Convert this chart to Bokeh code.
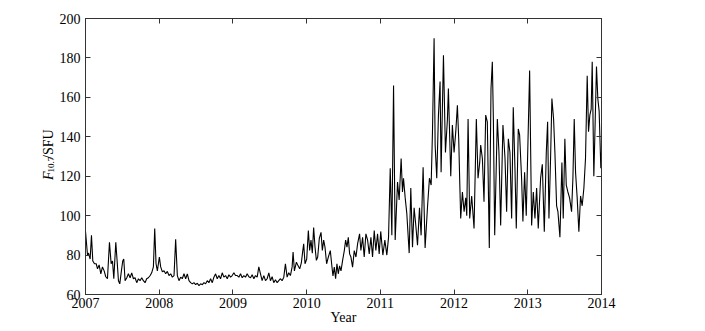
from bokeh.plotting import figure
from bokeh.models import Range1d, FixedTicker, LinearAxis, Label, CustomLabelingPolicy
from bokeh.layouts import row
from bokeh.embed import file_html
from bokeh.resources import INLINE
import math

# decimal year and F10.7 flux (SFU)
years = [
    2007.000, 2007.027, 2007.041, 2007.063, 2007.081, 2007.099, 2007.122, 2007.145, 2007.163, 2007.185,
    2007.208, 2007.230, 2007.253, 2007.275, 2007.298, 2007.325, 2007.348, 2007.366, 2007.384, 2007.411,
    2007.429, 2007.447, 2007.465, 2007.487, 2007.505, 2007.519, 2007.537, 2007.560, 2007.582, 2007.605,
    2007.627, 2007.650, 2007.672, 2007.695, 2007.718, 2007.740, 2007.763, 2007.785, 2007.808, 2007.830,
    2007.853, 2007.875, 2007.898, 2007.921, 2007.939, 2007.957, 2007.975,
    2008.002, 2008.020, 2008.043, 2008.065, 2008.088, 2008.110, 2008.133, 2008.156, 2008.178, 2008.201,
    2008.223, 2008.246, 2008.268, 2008.291, 2008.313, 2008.336, 2008.359, 2008.381, 2008.404, 2008.426,
    2008.449, 2008.471, 2008.494, 2008.517, 2008.539, 2008.562, 2008.585, 2008.607, 2008.629, 2008.652,
    2008.674, 2008.697, 2008.720, 2008.742, 2008.765, 2008.787, 2008.810, 2008.832, 2008.855, 2008.877,
    2008.900, 2008.923, 2008.945, 2008.968, 2008.990,
    2009.013, 2009.035, 2009.058, 2009.081, 2009.103, 2009.126, 2009.148, 2009.171, 2009.193, 2009.216,
    2009.239, 2009.261, 2009.284, 2009.306, 2009.329, 2009.351, 2009.374, 2009.396, 2009.419, 2009.442,
    2009.464, 2009.487, 2009.509, 2009.532, 2009.554, 2009.577, 2009.600, 2009.622, 2009.645, 2009.667,
    2009.690, 2009.712, 2009.735, 2009.757, 2009.780, 2009.803, 2009.816, 2009.834, 2009.861, 2009.879,
    2009.906, 2009.928, 2009.947, 2009.960, 2009.978,
    2010.001, 2010.023, 2010.041, 2010.059, 2010.077, 2010.095, 2010.114, 2010.132, 2010.150, 2010.172,
    2010.195, 2010.213, 2010.231, 2010.249, 2010.271, 2010.294, 2010.321, 2010.339, 2010.357, 2010.375,
    2010.393, 2010.411, 2010.429, 2010.447, 2010.466, 2010.488, 2010.511, 2010.529, 2010.547, 2010.565,
    2010.583, 2010.601, 2010.623, 2010.646, 2010.669, 2010.691, 2010.718, 2010.736, 2010.759, 2010.781,
    2010.804, 2010.827, 2010.849, 2010.872, 2010.894, 2010.917, 2010.939, 2010.962, 2010.984,
    2011.005, 2011.034, 2011.061, 2011.088, 2011.111, 2011.134, 2011.156, 2011.179, 2011.201, 2011.233,
    2011.255, 2011.282, 2011.300, 2011.314, 2011.337, 2011.359, 2011.391, 2011.413, 2011.436, 2011.458,
    2011.481, 2011.504, 2011.531, 2011.553, 2011.580, 2011.607, 2011.639, 2011.666, 2011.689, 2011.707,
    2011.729, 2011.743, 2011.765, 2011.788, 2011.810, 2011.824, 2011.856, 2011.883, 2011.910, 2011.923,
    2011.955, 2011.977,
    2012.000, 2012.023, 2012.045, 2012.063, 2012.077, 2012.090, 2012.113, 2012.136, 2012.158, 2012.172,
    2012.190, 2012.212, 2012.239, 2012.271, 2012.302, 2012.325, 2012.348, 2012.361, 2012.384, 2012.406,
    2012.429, 2012.451, 2012.478, 2012.501, 2012.519, 2012.533, 2012.551, 2012.587, 2012.609, 2012.632,
    2012.663, 2012.691, 2012.713, 2012.736, 2012.758, 2012.781, 2012.803, 2012.826, 2012.844, 2012.871,
    2012.889, 2012.916, 2012.934, 2012.957, 2012.979,
    2013.025, 2013.052, 2013.075, 2013.097, 2013.120, 2013.142, 2013.174, 2013.197, 2013.224, 2013.251,
    2013.269, 2013.287, 2013.309, 2013.327, 2013.350, 2013.368, 2013.391, 2013.409, 2013.436, 2013.463,
    2013.481, 2013.503, 2013.522, 2013.544, 2013.567, 2013.594, 2013.612, 2013.630, 2013.648, 2013.670,
    2013.693, 2013.716, 2013.738, 2013.761, 2013.783, 2013.806, 2013.824, 2013.842, 2013.860, 2013.874,
    2013.896, 2013.910, 2013.932, 2013.950, 2013.968, 2013.991, 2014.000,
]
flux = [
    92, 80, 81, 78, 90, 77, 75.6, 75.6, 73, 75,
    70.5, 74, 72, 69, 68, 86.5, 75.6, 77, 68, 86.5,
    77, 67, 65.4, 72, 77, 78, 67, 68.5, 70.5, 68.5,
    71, 68, 68.5, 66, 68, 67, 68.5, 67, 66, 68,
    68.5, 69.5, 71, 74, 93.5, 75.6, 72,
    79, 74, 71.5, 72, 70.5, 71.7, 69.6, 70.5, 68.8, 69.6,
    88, 69.6, 67, 68.8, 68, 70.5, 68, 70.5, 67, 66,
    65.4, 66, 65, 65.7, 64.5, 65.4, 65, 66, 65.4, 67,
    66, 68, 66, 68.8, 70.5, 68, 69.6, 68, 71, 68.8,
    69.6, 68, 70, 68.8, 69.6,
    71, 69.6, 69.6, 68.8, 70.5, 68.5, 69.6, 68.8, 70.5, 69,
    68.5, 70, 68, 69.6, 68.8, 74, 70.5, 67, 69.6, 67,
    68, 71, 67, 69, 66, 67.5, 66, 67, 68, 67,
    68.8, 75.6, 68.8, 71, 69.6, 74, 81.5, 72, 76.4, 75,
    73, 76, 82, 85.7, 75.6,
    78, 92.5, 82.3, 87.6, 81, 94, 84, 77.3, 79, 88.5,
    91.5, 82.3, 87.6, 84, 75.6, 79, 82.3, 75.6, 69.4, 73.9,
    68, 75.6, 70.5, 74.5, 72, 77.3, 82.3, 87.6, 84, 89,
    80.6, 79, 73.9, 82.3, 79, 85.7, 90.8, 82.3, 89, 79,
    90.8, 87.6, 80.6, 89, 79, 92.5, 82.3, 90.8, 80.6,
    92, 80, 87.6, 80, 89, 124, 90, 166, 87.6, 117,
    108, 129, 112, 119, 109, 101, 81, 114, 84, 104,
    95, 85, 104, 90, 124.6, 83.6, 104, 119, 115.5, 142.6,
    190, 135.8, 119, 151, 168, 122, 181.4, 132, 149, 164.5,
    120, 146,
    132, 142.6, 156, 139, 117, 98.6, 112, 102, 109, 100,
    149, 98.6, 110, 93.5, 149, 119, 127, 135.8, 129, 107,
    151, 147.6, 83.6, 164.5, 178, 149, 90, 149, 132, 95,
    146, 129, 102, 139, 132, 98.6, 155, 124, 93.5, 144,
    141, 119, 97, 122, 100,
    173.6, 95, 112, 98.6, 114, 93.5, 119, 126, 91.8, 132,
    147.6, 98.6, 129, 159.4, 149, 132, 105, 102, 89, 127,
    98.6, 139, 115.5, 112, 109, 102, 119, 149, 122, 109,
    91.8, 110, 105, 114, 129, 171, 142.6, 151, 154, 178,
    120, 141, 175.7, 159.4, 153, 124, 132,
]

x_ticks = [2007, 2008, 2009, 2010, 2011, 2012, 2013, 2014]
x_tick_labels = ["2007", "2008", "2009", "2010", "2011", "2012", "2013", "2014"]
y_ticks = [60, 80, 100, 120, 140, 160, 180, 200]
y_tick_labels = ["60", "80", "100", "120", "140", "160", "180", "200"]
x_title = "Year"
y_title_parts = ["F", "10.7", "/SFU"]

FONT = "Liberation Serif"
AX = "#333333"
H = 330
W_LABEL = 56

# ---- main plot ----
p = figure(width=640, height=H, output_backend="svg", toolbar_location=None,
           x_range=Range1d(2007, 2014), y_range=Range1d(60, 200),
           x_axis_location=None, y_axis_location=None,
           min_border_left=28, min_border_right=95, min_border_top=18, min_border_bottom=36)
p.background_fill_color = "white"
p.border_fill_color = "white"
p.grid.visible = False
p.outline_line_color = AX
p.outline_line_width = 1

p.line(years, flux, line_color="black", line_width=1.1)

no_labels = CustomLabelingPolicy(code="""
for (const i of indices) { indices.unset(i) }
return indices
""")

bottom = LinearAxis(ticker=FixedTicker(ticks=x_ticks),
                    major_label_overrides={t: l for t, l in zip(x_ticks, x_tick_labels)},
                    major_label_text_font_size="14px", major_label_standoff=3,
                    axis_label=x_title, axis_label_text_font=FONT,
                    axis_label_text_font_size="14px", axis_label_text_font_style="normal",
                    axis_label_standoff=-1, axis_label_text_color="black")
left = LinearAxis(ticker=FixedTicker(ticks=y_ticks),
                  major_label_overrides={t: l for t, l in zip(y_ticks, y_tick_labels)},
                  major_label_text_font_size="14px", major_label_standoff=5)
top = LinearAxis(ticker=FixedTicker(ticks=x_ticks), major_label_text_font_size="0px",
                 major_label_standoff=0, major_label_policy=no_labels)
right = LinearAxis(ticker=FixedTicker(ticks=y_ticks), major_label_text_font_size="0px",
                   major_label_standoff=0, major_label_policy=no_labels)
p.add_layout(bottom, "below")
p.add_layout(left, "left")
p.add_layout(top, "above")
p.add_layout(right, "right")

for ax in (bottom, left, top, right):
    ax.axis_line_color = AX
    ax.major_tick_line_color = AX
    ax.major_tick_in = 5
    ax.major_tick_out = 0
    ax.minor_tick_line_color = None
    ax.major_label_text_font = FONT
    ax.major_label_text_color = "black"

# ---- y-axis title panel (italic F, subscript 10.7, /SFU) ----
q = figure(width=W_LABEL, height=H, output_backend="svg", toolbar_location=None,
           x_range=Range1d(0, W_LABEL), y_range=Range1d(0, H),
           x_axis_location=None, y_axis_location=None, min_border=0)
q.outline_line_color = None
q.grid.visible = False
q.background_fill_color = "white"
q.border_fill_color = "white"
q.add_layout(Label(x=48, y=137, text=y_title_parts[0], text_font=FONT, text_font_size="14px",
                   text_font_style="italic", angle=math.pi / 2, text_align="left",
                   text_baseline="alphabetic", text_color="black"))
q.add_layout(Label(x=50, y=146, text=y_title_parts[1], text_font=FONT, text_font_size="9px",
                   angle=math.pi / 2, text_align="left", text_baseline="alphabetic",
                   text_color="black"))
q.add_layout(Label(x=48, y=162, text=y_title_parts[2], text_font=FONT, text_font_size="14px",
                   angle=math.pi / 2, text_align="left", text_baseline="alphabetic",
                   text_color="black"))

layout = row(q, p, spacing=0)
open("out.html", "w").write(file_html(layout, INLINE))
